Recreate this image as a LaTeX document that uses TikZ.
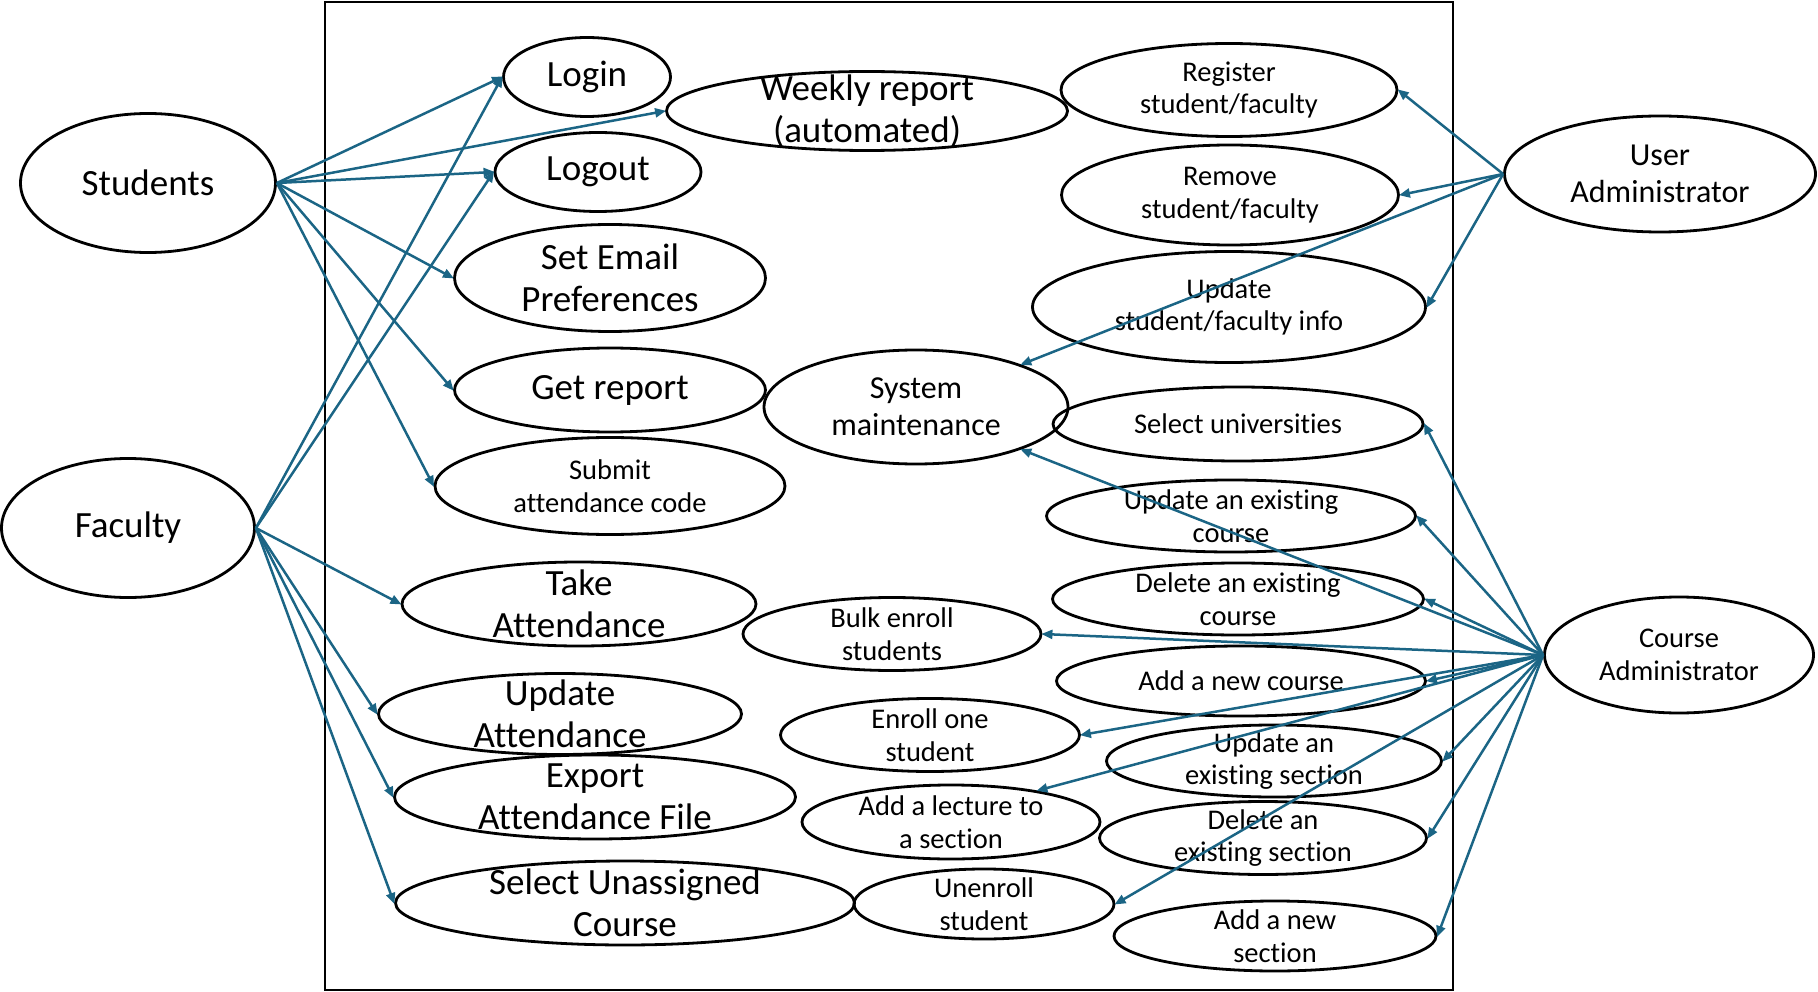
\documentclass[tikz,border=0pt]{standalone}
\usepackage{fontspec}
\setmainfont{Carlito}[Ligatures=CommonOff]
\usetikzlibrary{shapes.geometric,arrows.meta}
\definecolor{linkblue}{HTML}{1B6585}
\tikzset{
  uc/.style n args={2}{ellipse, draw, line width=2.8pt, inner sep=0pt,
    minimum width=#1pt, minimum height=#2pt},
  big/.style={font=\fontsize{37}{42}\selectfont, align=center},
  mid/.style={font=\fontsize{32}{37}\selectfont, align=center},
  small/.style={font=\fontsize{28.5}{32.5}\selectfont, align=center},
  conn/.style={draw=linkblue, line width=2.5pt,
    -{Triangle[length=11pt,width=9pt]}, shorten >=-1pt}
}
\begin{document}
\begin{tikzpicture}[x=1pt,y=-1pt]
\useasboundingbox (0,0) rectangle (1818,992);
% system boundary
\draw[line width=2.8pt] (325,2) rectangle (1453,990);
% actors
\node[uc={255}{139}, label={[big]center:Students}] (students) at (148,183) {};
\node[uc={253}{139}, label={[big]center:Faculty}] (faculty) at (128,528) {};
\node[uc={311}{116}, label={[mid]center:User\\Administrator}] (useradmin) at (1660,174) {};
\node[uc={269}{116}, label={[small]center:Course\\Administrator}] (courseadmin) at (1679,655) {};
% use cases left column
\node[uc={167}{79}, label={[big]center:Login}] (login) at (587,77) {};
\node[uc={401}{79}, label={[big]center:Weekly report\\(automated)}] (weekly) at (867,111) {};
\node[uc={206}{79}, label={[big]center:Logout}] (logout) at (598,172) {};
\node[uc={311}{107}, label={[big]center:Set Email\\Preferences}] (email) at (610,278) {};
\node[uc={311}{84}, label={[big]center:Get report}] (getreport) at (610,390) {};
\node[uc={350}{97}, label={[small]center:Submit\\attendance code}] (submit) at (610,486) {};
\node[uc={354}{84}, label={[big]center:Take\\Attendance}] (take) at (579,604) {};
\node[uc={363}{81}, label={[big]center:Update\\Attendance}] (updatt) at (560,714) {};
\node[uc={401}{84}, label={[big]center:Export\\Attendance File}] (export) at (595,797) {};
\node[uc={459}{84}, label={[big]center:Select Unassigned\\Course}] (selectun) at (625,903) {};
% use cases middle column
\node[uc={304}{114}, label={[mid]center:System\\maintenance}] (sysmaint) at (916,407) {};
\node[uc={298}{73}, label={[small]center:Bulk enroll\\students}] (bulk) at (892,634) {};
\node[uc={299}{73}, label={[small]center:Enroll one\\student}] (enrollone) at (930,735) {};
\node[uc={298}{74}, label={[small]center:Add a lecture to\\a section}] (addlecture) at (951,822) {};
\node[uc={260}{70}, label={[small]center:Unenroll\\student}] (unenroll) at (984,904) {};
% use cases right column
\node[uc={336}{93}, label={[small]center:Register\\student/faculty}] (register) at (1229,90) {};
\node[uc={337}{100}, label={[small]center:Remove\\student/faculty}] (remove) at (1230,195) {};
\node[uc={393}{111}, label={[small]center:Update\\student/faculty info}] (updinfo) at (1229,307) {};
\node[uc={370}{74}, label={[small]center:Select universities}] (selectuni) at (1238,424) {};
\node[uc={369}{72}, label={[small]center:Update an existing\\course}] (updcourse) at (1231,516) {};
\node[uc={371}{72}, label={[small]center:Delete an existing\\course}] (delcourse) at (1238,599) {};
\node[uc={369}{70}, label={[small]center:Add a new course}] (addcourse) at (1241,681) {};
\node[uc={335}{72}, label={[small]center:Update an\\existing section}] (updsection) at (1274,761) {};
\node[uc={327}{73}, label={[small]center:Delete an\\existing section}] (delsection) at (1263,838) {};
\node[uc={322}{70}, label={[small]center:Add a new\\section}] (addsection) at (1275,936) {};
% students
\foreach \uc in {login,weekly,logout,email,getreport,submit}
  \draw[conn] (students.east) -- (\uc.west);
% faculty
\foreach \uc in {login,logout,take,updatt,export,selectun}
  \draw[conn] (faculty.east) -- (\uc.west);
% user administrator
\foreach \uc in {register,remove,updinfo}
  \draw[conn] (useradmin.west) -- (\uc.east);
\draw[conn] (useradmin.west) -- (sysmaint.22);
% course administrator
\foreach \uc in {selectuni,updcourse,delcourse,bulk,addcourse,enrollone,updsection,unenroll,delsection,addsection}
  \draw[conn] (courseadmin.west) -- (\uc.east);
\draw[conn] (courseadmin.west) -- (sysmaint.-22);
\draw[conn] (courseadmin.west) -- (addlecture.20);
\end{tikzpicture}
\end{document}
